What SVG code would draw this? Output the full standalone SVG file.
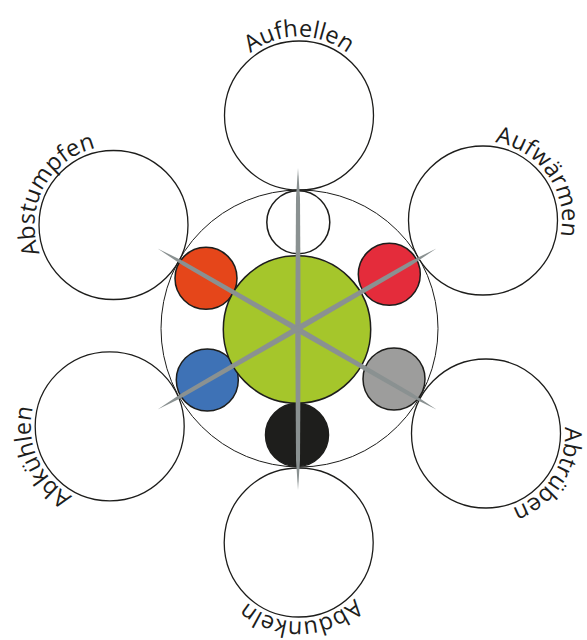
<svg xmlns="http://www.w3.org/2000/svg" xmlns:xlink="http://www.w3.org/1999/xlink" width="587" height="640" viewBox="0 0 587 640">
  <style>
    .big { fill: #ffffff; stroke: #1d1d1b; stroke-width: 1.3; }
    .ring { fill: none; stroke: #1d1d1b; stroke-width: 1; }
    .small { stroke: #1d1d1b; stroke-width: 1.5; }
    .lbl { font-family: "Open Sans", "Liberation Sans", sans-serif; font-size: 23.5px; fill: #1d1d1b; }
    .spike { fill: #8a9191; }
  </style>
  <defs>
    <polygon id="spk" points="-161,0 -131,-2 0,-2.75 131,-2 161,0 131,2 0,2.75 -131,2"/>
    <path id="p-aufhellen" d="M259.5,183.92 A79,79 0 1 1 338.5,183.92"/>
    <path id="p-aufwaermen" d="M404.30,227.39 A79,79 0 1 1 449.61,292.10"/>
    <path id="p-abstumpfen" d="M155.36,291.99 A79,79 0 1 1 192.45,222.24"/>
    <path id="p-abkuehlen" d="M188.27,434.56 A79,79 0 1 1 156.14,362.39"/>
    <path id="p-abtrueben" d="M450.13,363.11 A79,79 0 1 1 407.11,429.37"/>
    <path id="p-abdunkeln" d="M335.79,472.75 A79,79 0 1 1 256.84,475.51"/>
  </defs>

  <g id="node-aufhellen">
    <circle class="big" cx="299" cy="115.5" r="74.5"/>
    <text class="lbl" text-anchor="middle"><textPath href="#p-aufhellen" xlink:href="#p-aufhellen" startOffset="50%">Aufhellen</textPath></text>
  </g>
  <g id="node-aufwaermen">
    <circle class="big" cx="483" cy="220.5" r="74.5"/>
    <text class="lbl" text-anchor="middle"><textPath href="#p-aufwaermen" xlink:href="#p-aufwaermen" startOffset="50%">Aufwärmen</textPath></text>
  </g>
  <g id="node-abstumpfen">
    <circle class="big" cx="113.5" cy="225" r="74.5"/>
    <text class="lbl" text-anchor="middle"><textPath href="#p-abstumpfen" xlink:href="#p-abstumpfen" startOffset="50%">Abstumpfen</textPath></text>
  </g>
  <g id="node-abkuehlen">
    <circle class="big" cx="109.7" cy="426.3" r="74.5"/>
    <text class="lbl" text-anchor="middle"><textPath href="#p-abkuehlen" xlink:href="#p-abkuehlen" startOffset="50%">Abkühlen</textPath></text>
  </g>
  <g id="node-abtrueben">
    <circle class="big" cx="486" cy="433.5" r="74.5"/>
    <text class="lbl" text-anchor="middle"><textPath href="#p-abtrueben" xlink:href="#p-abtrueben" startOffset="50%">Abtrüben</textPath></text>
  </g>
  <g id="node-abdunkeln">
    <circle class="big" cx="298.7" cy="542.5" r="74.5"/>
    <text class="lbl" text-anchor="middle"><textPath href="#p-abdunkeln" xlink:href="#p-abdunkeln" startOffset="50%">Abdunkeln</textPath></text>
  </g>

  <g id="ring">
    <circle class="ring" cx="299.5" cy="328.5" r="138.5"/>
  </g>

  <g id="node-white"><circle class="small" fill="#ffffff" cx="298.3" cy="222.3" r="31.5"/></g>
  <g id="node-orange"><circle class="small" fill="#e5461a" cx="206" cy="278.3" r="31"/></g>
  <g id="node-red"><circle class="small" fill="#e42c3b" cx="389.3" cy="274.3" r="31"/></g>
  <g id="node-blue"><circle class="small" fill="#3e72b6" cx="207.3" cy="380" r="31"/></g>
  <g id="node-gray"><circle class="small" fill="#9d9d9c" cx="394" cy="379" r="31"/></g>
  <g id="node-black"><circle class="small" fill="#1e1e1c" cx="297" cy="435" r="31.5"/></g>
  <g id="node-green"><circle class="small" fill="#a5c62b" cx="297" cy="329.5" r="73.7"/></g>

  <g id="connectors">
    <use class="spike" href="#spk" xlink:href="#spk" transform="translate(298,329) rotate(90)"/>
    <use class="spike" href="#spk" xlink:href="#spk" transform="translate(297,329) rotate(30)"/>
    <use class="spike" href="#spk" xlink:href="#spk" transform="translate(297,329) rotate(-30)"/>
  </g>
</svg>
